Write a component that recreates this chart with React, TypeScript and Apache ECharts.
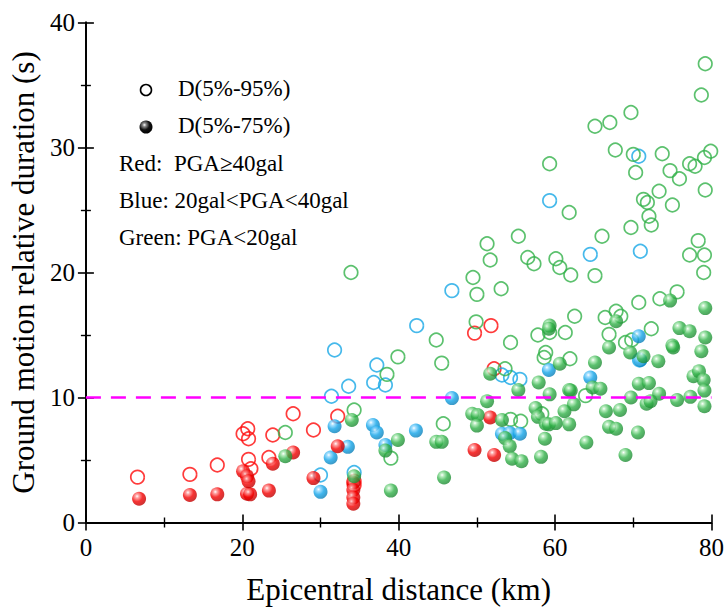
import React, { useEffect, useRef } from "react";
import * as echarts from "echarts";

// D(5%-95%) open circles, D(5%-75%) filled spheres — [distance km, duration s]
const redOpen: number[][] = [
  [6.6, 3.63], [13.3, 3.85], [16.8, 4.6], [20.7, 7.5], [20.1, 7.1], [20.8, 6.7],
  [20.8, 5.05], [21.1, 4.3], [23.4, 5.2], [23.9, 7.0], [26.5, 8.7], [29.1, 7.4],
  [32.2, 8.5], [49.7, 15.15], [51.8, 15.75], [52.2, 12.3], [34.3, 3.3], [34.3, 3.0],
];
const redFilled: number[][] = [
  [6.8, 1.9], [13.3, 2.2], [16.8, 2.25], [20.6, 2.3], [21.0, 2.25], [20.1, 4.1],
  [20.6, 3.7], [20.8, 3.3], [23.4, 2.55], [23.9, 4.7], [26.5, 5.6], [29.1, 3.55],
  [32.2, 6.1], [34.2, 3.2], [34.2, 2.6], [34.2, 2.0], [34.2, 1.5], [49.7, 5.8],
  [51.7, 8.4], [52.2, 5.4],
];
const blueOpen: number[][] = [
  [30.0, 3.8], [31.4, 10.1], [31.8, 13.8], [33.6, 10.9], [36.8, 11.2], [37.2, 12.6],
  [38.3, 11.0], [42.3, 15.75], [46.8, 18.55], [53.2, 11.8], [54.3, 11.6], [55.5, 11.45],
  [59.3, 25.75], [64.5, 21.45], [70.7, 29.3], [70.9, 21.7], [70.8, 13.0], [34.3, 4.0],
];
const blueFilled: number[][] = [
  [30.0, 2.45], [31.3, 5.2], [31.8, 7.7], [33.5, 6.05], [36.7, 7.8], [37.2, 7.2],
  [38.3, 6.2], [42.2, 7.35], [46.8, 9.95], [53.2, 7.1], [54.2, 7.15], [55.5, 7.1],
  [59.2, 12.2], [64.5, 11.6], [70.7, 14.9], [70.9, 13.0],
];
const greenOpen: number[][] = [
  [79.2, 36.7], [78.7, 34.2], [69.7, 32.8], [65.1, 31.7], [67.0, 32.0], [67.7, 29.8],
  [70.0, 29.45], [70.3, 28.0], [73.7, 29.5], [74.7, 28.15], [75.9, 27.5], [77.2, 28.7],
  [77.9, 28.5], [79.1, 29.2], [79.9, 29.7], [79.2, 26.6], [59.3, 28.7], [61.8, 24.8],
  [71.3, 25.85], [71.8, 25.6], [73.3, 26.5], [75.0, 25.4], [72.0, 24.5], [72.3, 23.8],
  [69.7, 23.6], [66.0, 22.9], [55.3, 22.9], [51.3, 22.3], [51.7, 21.0], [56.5, 21.2],
  [57.3, 20.7], [60.1, 21.1], [60.6, 20.4], [62.0, 19.8], [65.1, 19.75], [49.5, 19.6],
  [50.0, 18.25], [53.1, 18.7], [78.3, 22.55], [77.2, 21.4], [79.1, 21.4], [79.0, 20.0],
  [75.6, 18.45], [73.4, 17.9], [70.7, 17.6], [67.8, 16.9], [68.4, 16.5], [66.4, 16.4],
  [62.5, 16.5], [49.9, 16.05], [45.5, 12.75], [44.8, 14.6], [39.9, 13.25], [38.5, 11.85],
  [33.9, 20.0], [54.3, 14.4], [57.8, 15.0], [59.3, 15.2], [61.3, 15.2], [66.9, 15.05],
  [72.3, 15.5], [69.0, 14.4], [58.8, 13.6], [58.6, 13.2], [61.9, 13.1], [53.6, 12.3],
  [63.9, 10.15], [54.3, 8.25], [55.6, 8.1], [58.3, 8.7], [45.7, 7.9], [34.3, 9.0],
  [25.5, 7.2], [39.0, 5.15], [69.8, 14.6],
];
const greenFilled: number[][] = [
  [79.2, 17.15], [74.7, 17.75], [75.9, 15.55], [77.2, 15.3], [75.0, 14.15], [75.1, 14.0],
  [78.7, 13.7], [79.2, 14.8], [69.6, 13.6], [71.3, 13.3], [73.2, 12.9], [66.9, 14.0],
  [67.8, 16.1], [59.3, 15.75], [59.2, 15.5], [60.6, 12.7], [65.1, 12.8], [51.7, 11.9],
  [57.9, 11.2], [55.3, 10.6], [59.3, 10.25], [61.8, 10.6], [62.0, 10.55], [64.8, 10.8],
  [65.8, 10.7], [70.7, 11.1], [72.0, 11.15], [73.3, 10.3], [77.7, 11.7], [78.4, 12.1],
  [79.0, 11.4], [79.1, 10.55], [77.3, 10.05], [75.6, 9.8], [69.7, 10.0], [71.7, 9.5],
  [72.2, 9.7], [79.1, 9.3], [62.4, 9.45], [61.2, 8.9], [66.5, 8.9], [68.3, 9.0],
  [57.5, 9.15], [57.8, 8.45], [51.3, 9.7], [49.4, 8.7], [50.1, 8.6], [50.0, 7.75],
  [53.2, 8.2], [58.8, 7.9], [59.2, 7.85], [60.1, 7.95], [61.8, 7.85], [66.9, 7.65],
  [67.8, 7.5], [70.6, 7.2], [58.7, 6.7], [53.6, 6.75], [54.2, 6.1], [64.0, 6.4],
  [58.2, 5.25], [69.0, 5.4], [54.5, 5.1], [55.7, 4.9], [44.8, 6.45], [45.5, 6.45],
  [45.8, 3.6], [39.9, 6.6], [38.3, 5.75], [39.0, 2.55], [34.0, 8.2], [34.3, 3.7],
  [25.5, 5.3],
];

const xTicks = [0, 20, 40, 60, 80];
const yTicks = [0, 10, 20, 30, 40];
const thresholdValue = 10;

const RED = "#ff0a0a";
const BLUE = "#18a8e6";
const GREEN = "#33b24a";

const FONT = "Liberation Serif";

function sphere(light: string, base: string, dark: string) {
  return new echarts.graphic.RadialGradient(0.36, 0.32, 0.7, [
    { offset: 0, color: "#ffffff" },
    { offset: 0.18, color: light },
    { offset: 0.55, color: base },
    { offset: 1, color: dark },
  ]);
}

export default function App() {
  const ref = useRef<HTMLDivElement>(null);
  useEffect(() => {
    if (!ref.current) return;
    const chart = echarts.init(ref.current, null, { renderer: "svg" });

    const openSeries = (data: number[][], color: string) => ({
      type: "scatter",
      data,
      symbol: "circle",
      symbolSize: 13.5,
      clip: true,
      itemStyle: { color: "rgba(255,255,255,0)", borderColor: color, borderWidth: 1.7 },
      emphasis: { disabled: true },
    });
    const filledSeries = (data: number[][], grad: any) => ({
      type: "scatter",
      data,
      symbol: "circle",
      symbolSize: 14,
      clip: true,
      itemStyle: { color: grad },
      emphasis: { disabled: true },
    });

    const commonAxisLine = { show: true, lineStyle: { color: "#000", width: 1.8 } };
    const tick = { show: true, inside: true, length: 8, lineStyle: { color: "#000", width: 1.6 } };
    const minor = { show: true, splitNumber: 2, length: 5, lineStyle: { color: "#000", width: 1.4 } };

    chart.setOption({
      animation: false,
      backgroundColor: "#fff",
      textStyle: { fontFamily: FONT },
      grid: { left: 84, right: 14.5, top: 22.5, bottom: 82.5, containLabel: false },
      xAxis: [
        {
          type: "value",
          min: 0,
          max: 80,
          interval: 20,
          position: "bottom",
          axisLine: commonAxisLine,
          axisTick: tick,
          minorTick: minor,
          splitLine: { show: false },
          axisLabel: {
            fontFamily: FONT,
            fontSize: 25,
            color: "#000",
            margin: 12,
            formatter: (v: number) => (xTicks.includes(v) ? String(v) : ""),
          },
          name: "Epicentral distance (km)",
          nameLocation: "middle",
          nameGap: 67,
          nameTextStyle: { fontFamily: FONT, fontSize: 31, color: "#000", verticalAlign: "middle" },
        },
        {
          type: "value",
          min: 0,
          max: 80,
          interval: 20,
          position: "top",
          axisLine: commonAxisLine,
          axisTick: tick,
          minorTick: minor,
          splitLine: { show: false },
          axisLabel: { show: false },
        },
      ],
      yAxis: [
        {
          type: "value",
          min: 0,
          max: 40,
          interval: 10,
          position: "left",
          axisLine: commonAxisLine,
          axisTick: tick,
          minorTick: minor,
          splitLine: { show: false },
          axisLabel: {
            fontFamily: FONT,
            fontSize: 25,
            color: "#000",
            margin: 11,
            formatter: (v: number) => (yTicks.includes(v) ? String(v) : ""),
          },
          name: "Ground motion relative duration (s)",
          nameLocation: "middle",
          nameGap: 45,
          nameTextStyle: { fontFamily: FONT, fontSize: 31, color: "#000" },
        },
        {
          type: "value",
          min: 0,
          max: 40,
          interval: 10,
          position: "right",
          axisLine: commonAxisLine,
          axisTick: tick,
          minorTick: minor,
          splitLine: { show: false },
          axisLabel: { show: false },
        },
      ],
      series: [
        {
          ...openSeries(redOpen, RED),
          markLine: {
            silent: true,
            symbol: ["none", "none"],
            label: { show: false },
            lineStyle: { color: "#ff00ff", width: 2.6, type: [15, 10] },
            data: [{ yAxis: thresholdValue }],
          },
        },
        openSeries(blueOpen, BLUE),
        openSeries(greenOpen, GREEN),
        filledSeries(blueFilled, sphere("#8fd8ff", "#12a4e8", "#0a7fb8")),
        filledSeries(redFilled, sphere("#ff9090", "#f40000", "#c00000")),
        filledSeries(greenFilled, sphere("#a8e8b0", "#33b24a", "#1f8a34")),
      ],
      graphic: [
        {
          type: "circle",
          shape: { cx: 146, cy: 90, r: 5.5 },
          style: { fill: "none", stroke: "#000", lineWidth: 1.6 },
        },
        {
          type: "circle",
          shape: { cx: 146, cy: 127, r: 6.5 },
          style: {
            fill: new echarts.graphic.RadialGradient(0.38, 0.34, 0.7, [
              { offset: 0, color: "#ffffff" },
              { offset: 0.2, color: "#888888" },
              { offset: 0.55, color: "#111111" },
              { offset: 1, color: "#000000" },
            ]),
          },
        },
        { type: "text", left: 178, top: 77, style: { text: "D(5%-95%)", font: `23px ${FONT}`, fill: "#000" } },
        { type: "text", left: 178, top: 114, style: { text: "D(5%-75%)", font: `23px ${FONT}`, fill: "#000" } },
        { type: "text", left: 119, top: 152, style: { text: "Red:  PGA≥40gal", font: `23px ${FONT}`, fill: "#000" } },
        { type: "text", left: 119, top: 189, style: { text: "Blue: 20gal<PGA<40gal", font: `23px ${FONT}`, fill: "#000" } },
        { type: "text", left: 119, top: 226, style: { text: "Green: PGA<20gal", font: `23px ${FONT}`, fill: "#000" } },
      ],
    });
    return () => chart.dispose();
  }, []);
  return <div ref={ref} style={{ width: 727, height: 610, position: "absolute", left: 0, top: 0 }} />;
}
